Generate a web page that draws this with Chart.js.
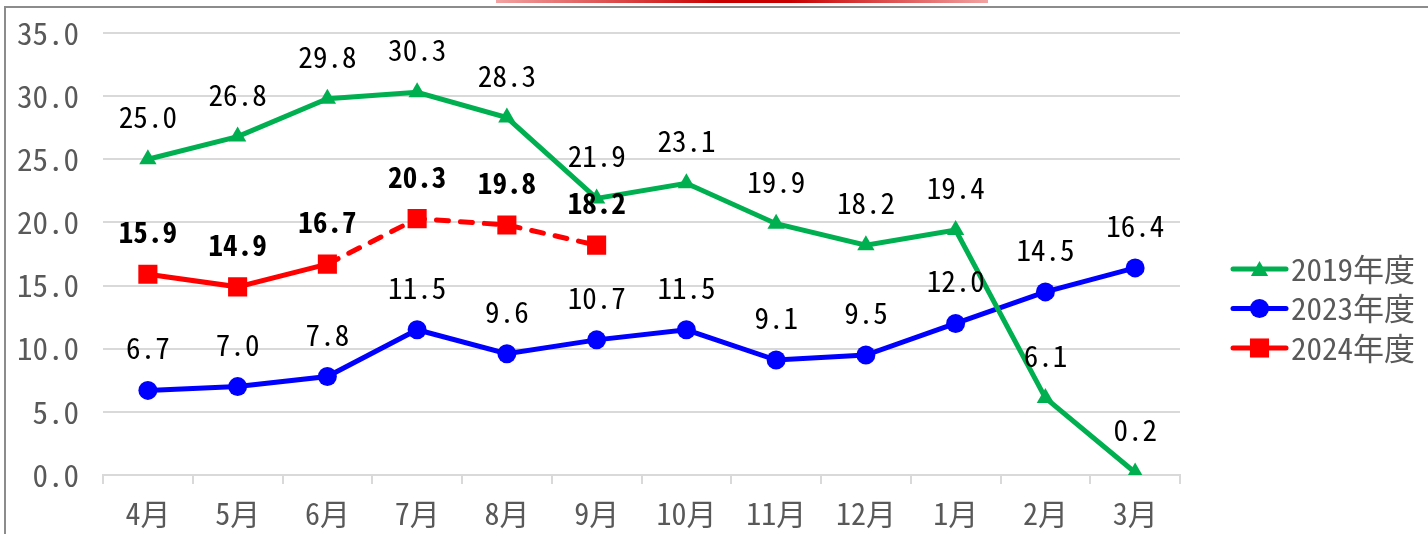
<!DOCTYPE html>
<html><head><meta charset="utf-8">
<script src="https://cdn.jsdelivr.net/npm/chart.js@4.4.0/dist/chart.umd.min.js"></script>
<style>
html,body{margin:0;padding:0;background:#fff;}
#wrap{position:relative;width:1428px;height:534px;overflow:hidden;background:#fff;}
#c{position:absolute;left:0;top:0;}
.bt{position:absolute;left:4px;top:6px;width:1424px;height:2px;background:#8c8c8c;}
.bl{position:absolute;left:4px;top:6px;width:2px;height:528px;background:#8c8c8c;}
.red{position:absolute;left:496px;top:0;width:492px;height:3px;background:linear-gradient(90deg,#f2a3a3,#c80000 45%,#c80000 60%,#f2a3a3);}
</style></head>
<body>
<div id="wrap">
<canvas id="c" width="1428" height="534"></canvas>
<div class="bt"></div><div class="bl"></div><div class="red"></div>
</div>
<script>
const categories = ['4月','5月','6月','7月','8月','9月','10月','11月','12月','1月','2月','3月'];
const seriesNames = ['2019年度','2023年度','2024年度'];
const fy2019 = [25.0, 26.8, 29.8, 30.3, 28.3, 21.9, 23.1, 19.9, 18.2, 19.4, 6.1, 0.2];
const fy2023 = [6.7, 7.0, 7.8, 11.5, 9.6, 10.7, 11.5, 9.1, 9.5, 12.0, 14.5, 16.4];
const fy2024 = [15.9, 14.9, 16.7, 20.3, 19.8, 18.2];
const yTicks = [0, 5, 10, 15, 20, 25, 30, 35];

const FONT = "'Noto Sans Mono CJK JP','Noto Sans CJK JP','Liberation Mono',monospace";

const labelPlugin = {
  id: 'labels',
  afterDatasetsDraw(chart) {
    const ctx = chart.ctx;
    ctx.save();
    ctx.textAlign = 'center';
    ctx.textBaseline = 'middle';
    ctx.fillStyle = '#000';
    chart.data.datasets.forEach((ds, i) => {
      const meta = chart.getDatasetMeta(i);
      ctx.font = (ds.boldLabels ? 'bold ' : '') + '29px ' + FONT;
      meta.data.forEach((pt, j) => {
        const v = ds.data[j];
        if (v == null) return;
        ctx.fillText(v.toFixed(1), pt.x, pt.y - 42);
      });
    });
    ctx.restore();
  },
  afterDraw(chart) {
    const ctx = chart.ctx;
    ctx.save();
    chart.data.datasets.forEach((ds, i) => {
      const y = 269 + i * 39.5;
      ctx.strokeStyle = ds.borderColor;
      ctx.lineWidth = 5;
      ctx.lineCap = 'round';
      ctx.setLineDash([]);
      ctx.beginPath();
      ctx.moveTo(1233, y);
      ctx.lineTo(1286, y);
      ctx.stroke();
      ctx.fillStyle = ds.borderColor;
      Chart.helpers.drawPoint(ctx, {pointStyle: ds.pointStyle, radius: ds.pointRadius, rotation: 0, borderWidth: 0}, 1259.5, y + (ds.pointStyle === 'triangle' ? 2 : 0));
      ctx.fillStyle = '#595959';
      ctx.font = '31px ' + FONT;
      ctx.textAlign = 'left';
      ctx.textBaseline = 'middle';
      ctx.fillText(ds.label, 1291, y);
    });
    ctx.restore();
  }
};

new Chart(document.getElementById('c'), {
  type: 'line',
  data: {
    labels: categories,
    datasets: [
      {label: seriesNames[0], data: fy2019, borderColor: '#00B050', backgroundColor: '#00B050',
       pointBackgroundColor: '#00B050', borderWidth: 5, pointStyle: 'triangle', pointRadius: 10, pointHoverRadius: 10, pointBorderWidth: 0},
      {label: seriesNames[1], data: fy2023, borderColor: '#0000FF', backgroundColor: '#0000FF',
       pointBackgroundColor: '#0000FF', borderWidth: 5, pointStyle: 'circle', pointRadius: 9.5, pointHoverRadius: 9.5, pointBorderWidth: 0},
      {label: seriesNames[2], data: fy2024, borderColor: '#FF0000', backgroundColor: '#FF0000',
       pointBackgroundColor: '#FF0000', borderWidth: 5, pointStyle: 'rect', pointRadius: 13.5, pointHoverRadius: 13.5, pointBorderWidth: 0,
       boldLabels: true, borderCapStyle: 'round',
       segment: {borderDash: c => c.p0DataIndex >= 2 ? [12, 12] : undefined}}
    ]
  },
  options: {
    responsive: false,
    animation: false,
    events: [],
    layout: {padding: {top: 33, right: 248, bottom: 0, left: 0}},
    plugins: {legend: {display: false}, tooltip: {enabled: false}},
    scales: {
      x: {
        offset: true,
        grid: {offset: true, drawOnChartArea: false, drawTicks: true, tickLength: 9, color: '#d9d9d9', lineWidth: 2},
        border: {display: true, color: '#d9d9d9', width: 2},
        ticks: {color: '#595959', font: {family: FONT, size: 30}, padding: 12, maxRotation: 0, autoSkip: false},
        afterFit: s => { s.height = 59; s.paddingLeft = 0; s.paddingRight = 0; }
      },
      y: {
        min: 0, max: 35,
        afterBuildTicks: s => { s.ticks = yTicks.map(v => ({value: v})); },
        grid: {color: '#d9d9d9', lineWidth: 2, drawTicks: false},
        border: {display: false},
        ticks: {color: '#595959', font: {family: FONT, size: 31}, padding: 24, callback: v => Number(v).toFixed(1)},
        afterFit: s => { s.width = 103; s.paddingTop = 0; s.paddingBottom = 0; }
      }
    }
  },
  plugins: [labelPlugin]
});
</script>
</body></html>
